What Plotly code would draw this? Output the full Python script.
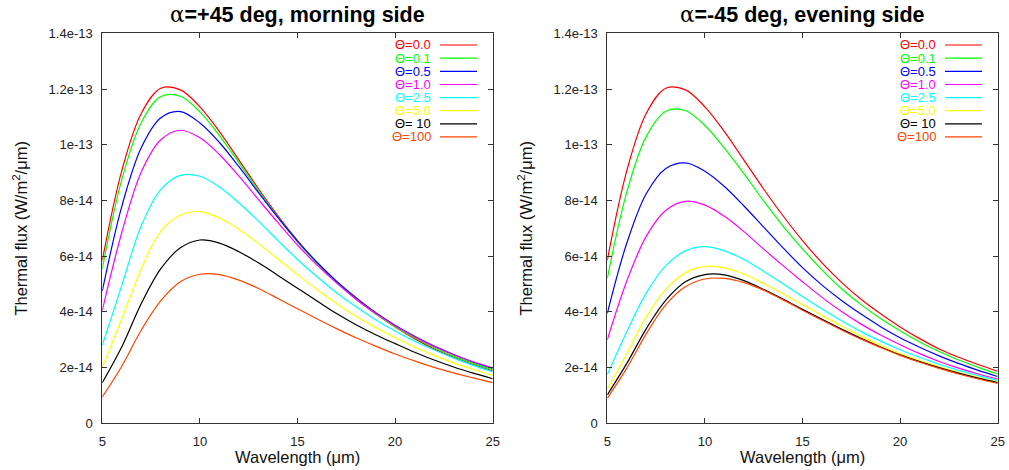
import plotly.graph_objects as go

# Wavelength sample points (micron)
wavelength = [5, 6, 7, 8, 9, 10, 11, 12, 13, 14, 15, 16, 17, 18, 19, 20, 21, 22, 23, 24, 25]

# Thermal flux, in units of 1e-14 W/m^2/um
# alpha = +45 deg, morning side
morning_th00 = [5.85, 9.07, 11.13, 12.03, 11.97, 11.36, 10.47, 9.45, 8.42, 7.45, 6.56, 5.76, 5.06, 4.45, 3.93, 3.46, 3.04, 2.67, 2.37, 2.11, 1.88]
morning_th01 = [5.55, 8.75, 10.8, 11.73, 11.74, 11.18, 10.33, 9.35, 8.34, 7.39, 6.51, 5.74, 5.05, 4.46, 3.93, 3.47, 3.07, 2.71, 2.41, 2.15, 1.92]
morning_th05 = [4.75, 7.79, 9.9, 10.97, 11.19, 10.78, 10.08, 9.21, 8.28, 7.38, 6.54, 5.78, 5.1, 4.51, 3.98, 3.52, 3.12, 2.77, 2.47, 2.2, 1.97]
morning_th10 = [4.05, 6.85, 9.03, 10.18, 10.52, 10.25, 9.65, 8.87, 8.03, 7.2, 6.4, 5.68, 5.04, 4.46, 3.95, 3.5, 3.11, 2.76, 2.46, 2.21, 1.99]
morning_th25 = [2.8, 4.95, 7.1, 8.39, 8.9, 8.87, 8.48, 7.91, 7.26, 6.56, 5.88, 5.26, 4.69, 4.18, 3.72, 3.31, 2.95, 2.63, 2.34, 2.08, 1.85]
morning_th50 = [2.0, 3.75, 5.55, 6.9, 7.47, 7.6, 7.37, 6.97, 6.45, 5.9, 5.34, 4.8, 4.3, 3.84, 3.44, 3.07, 2.74, 2.44, 2.17, 1.93, 1.72]
morning_th10x = [1.46, 2.75, 4.3, 5.55, 6.3, 6.58, 6.47, 6.16, 5.76, 5.31, 4.85, 4.39, 3.94, 3.54, 3.18, 2.86, 2.55, 2.27, 2.02, 1.8, 1.6]
morning_th100 = [0.95, 2.05, 3.35, 4.4, 5.08, 5.35, 5.34, 5.14, 4.84, 4.48, 4.11, 3.75, 3.4, 3.07, 2.77, 2.49, 2.24, 2.01, 1.81, 1.63, 1.46]

# alpha = -45 deg, evening side
evening_th00 = [5.85, 9.07, 11.13, 12.03, 11.97, 11.36, 10.47, 9.45, 8.42, 7.45, 6.56, 5.76, 5.06, 4.45, 3.93, 3.46, 3.04, 2.67, 2.37, 2.11, 1.87]
evening_th01 = [5.2, 8.3, 10.3, 11.2, 11.23, 10.69, 9.88, 8.96, 7.99, 7.08, 6.26, 5.51, 4.83, 4.26, 3.76, 3.32, 2.92, 2.58, 2.27, 2.01, 1.77]
evening_th05 = [3.95, 6.47, 8.25, 9.15, 9.35, 9.05, 8.5, 7.8, 7.05, 6.3, 5.59, 4.96, 4.41, 3.92, 3.47, 3.07, 2.73, 2.42, 2.15, 1.9, 1.68]
evening_th10 = [3.0, 5.11, 6.72, 7.65, 7.97, 7.83, 7.43, 6.88, 6.26, 5.66, 5.08, 4.52, 4.01, 3.56, 3.17, 2.82, 2.5, 2.22, 1.98, 1.77, 1.59]
evening_th25 = [1.75, 3.29, 4.68, 5.66, 6.19, 6.34, 6.19, 5.88, 5.46, 5.01, 4.55, 4.1, 3.68, 3.29, 2.95, 2.64, 2.37, 2.12, 1.9, 1.71, 1.53]
evening_th50 = [1.22, 2.5, 3.83, 4.81, 5.4, 5.63, 5.58, 5.35, 5.02, 4.65, 4.26, 3.87, 3.49, 3.13, 2.8, 2.5, 2.25, 2.03, 1.83, 1.65, 1.48]
evening_th10x = [1.02, 2.15, 3.4, 4.42, 5.08, 5.34, 5.33, 5.12, 4.81, 4.46, 4.09, 3.73, 3.38, 3.05, 2.74, 2.46, 2.22, 2.0, 1.8, 1.62, 1.46]
evening_th100 = [0.9, 1.98, 3.22, 4.26, 4.9, 5.18, 5.2, 5.05, 4.78, 4.43, 4.06, 3.7, 3.35, 3.02, 2.72, 2.44, 2.19, 1.97, 1.77, 1.59, 1.43]

theta_labels = ["Θ=0.0", "Θ=0.1", "Θ=0.5", "Θ=1.0", "Θ=2.5", "Θ=5.0", "Θ= 10", "Θ=100"]
line_colors = ["#ff0000", "#00ff00", "#0000ff", "#ff00ff", "#00ffff", "#ffff00", "#000000", "#ff4500"]

x_tickvals = [5, 10, 15, 20, 25]
y_tickvals = [0, 2e-14, 4e-14, 6e-14, 8e-14, 1e-13, 1.2e-13, 1.4e-13]
y_ticktext = ["0", "2e-14", "4e-14", "6e-14", "8e-14", "1e-13", "1.2e-13", "1.4e-13"]

panel_titles = ["=+45 deg, morning side", "=-45 deg, evening side"]

FLUX_UNIT = 1e-14
W, H = 1009, 470
FONT = "Liberation Sans, Arial, Helvetica, sans-serif"


def px(x):
    return x / W


def py(y):
    return 1 - y / H


morning = [morning_th00, morning_th01, morning_th05, morning_th10,
           morning_th25, morning_th50, morning_th10x, morning_th100]
evening = [evening_th00, evening_th01, evening_th05, evening_th10,
           evening_th25, evening_th50, evening_th10x, evening_th100]

fig = go.Figure()

panels = [
    dict(series=morning, xa="x", ya="y", left=102.3, right=492.7,
         leg_text_right=432.5, leg_line=(440, 477)),
    dict(series=evening, xa="x2", ya="y2", left=607.3, right=997.7,
         leg_text_right=937.5, leg_line=(945, 982)),
]
top_px, bottom_px = 33.3, 423.3

for p in panels:
    for label, color, vals in zip(theta_labels, line_colors, p["series"]):
        fig.add_trace(go.Scatter(
            x=wavelength,
            y=[v * FLUX_UNIT for v in vals],
            mode="lines",
            line=dict(color=color, width=1.2, shape="spline", smoothing=1.0),
            name=label,
            showlegend=False,
            xaxis=p["xa"], yaxis=p["ya"],
        ))

axis_common = dict(
    showline=True, linecolor="#333333", linewidth=1,
    mirror="allticks", ticks="inside", ticklen=5, tickwidth=1, tickcolor="#333333",
    showgrid=False, zeroline=False,
    tickfont=dict(family=FONT, size=13, color="#222222"),
    automargin=False,
)

layout_axes = {}
for i, p in enumerate(panels):
    sfx = "" if i == 0 else str(i + 1)
    layout_axes["xaxis" + sfx] = dict(
        axis_common,
        domain=[px(p["left"]), px(p["right"])],
        range=[5, 25], tickvals=x_tickvals,
        anchor="y" + sfx, ticklabelstandoff=6,
    )
    layout_axes["yaxis" + sfx] = dict(
        axis_common,
        domain=[py(bottom_px), py(top_px)],
        range=[0, 1.4e-13], tickvals=y_tickvals, ticktext=y_ticktext,
        anchor="x" + sfx, ticklabelstandoff=6,
    )

annotations = []
shapes = []
row_y = [45, 58.2, 71.4, 84.5, 97.6, 110.7, 123.8, 136.9]
for i, p in enumerate(panels):
    cx = (p["left"] + p["right"]) / 2
    # panel title
    annotations.append(dict(
        x=px(cx), y=py(15), xref="paper", yref="paper",
        xanchor="center", yanchor="middle", showarrow=False,
        text=("<span style='font-family:DejaVu Serif;font-weight:normal'>α</span>"
              "<b>" + panel_titles[i] + "</b>"),
        font=dict(family=FONT, size=21.5, color="#000000"),
    ))
    # x axis title
    annotations.append(dict(
        x=px(cx), y=py(456.5), xref="paper", yref="paper",
        xanchor="center", yanchor="middle", showarrow=False,
        text="Wavelength (μm)",
        font=dict(family=FONT, size=16.5, color="#111111"),
    ))
    # y axis title
    annotations.append(dict(
        x=px(p["left"] - 82), y=py((top_px + bottom_px) / 2), xref="paper", yref="paper",
        xanchor="center", yanchor="middle", showarrow=False, textangle=-90,
        text="Thermal flux (W/m<sup>2</sup>/μm)",
        font=dict(family=FONT, size=16.5, color="#111111"),
    ))
    # key
    for label, color, ry in zip(theta_labels, line_colors, row_y):
        annotations.append(dict(
            x=px(p["leg_text_right"]), y=py(ry), xref="paper", yref="paper",
            xanchor="right", yanchor="middle", showarrow=False,
            text=label, font=dict(family=FONT, size=13, color=color),
        ))
        shapes.append(dict(
            type="line", xref="paper", yref="paper",
            x0=px(p["leg_line"][0]), x1=px(p["leg_line"][1]),
            y0=py(ry), y1=py(ry),
            line=dict(color=color, width=1.2),
        ))

fig.update_layout(
    width=W, height=H,
    margin=dict(l=0, r=0, t=0, b=0),
    paper_bgcolor="white", plot_bgcolor="white",
    font=dict(family=FONT),
    annotations=annotations,
    shapes=shapes,
    showlegend=False,
    **layout_axes,
)

fig.write_html("out.html")
